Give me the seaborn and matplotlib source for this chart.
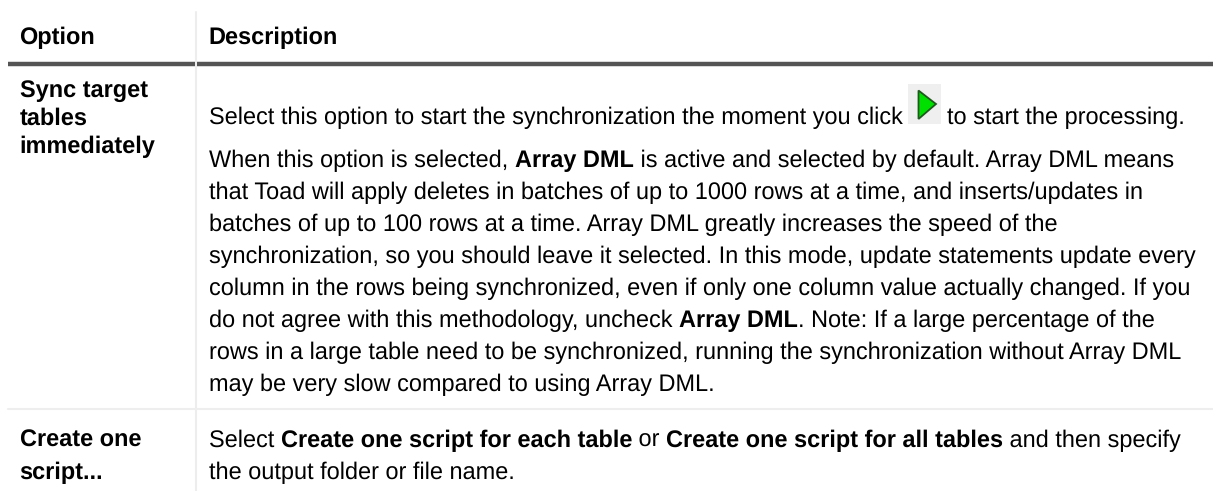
import matplotlib
matplotlib.use('Agg')
import matplotlib.pyplot as plt
from matplotlib.patches import Polygon, Rectangle
import seaborn as sns

sns.set_theme(style='white')
plt.rcParams['font.family'] = ['Liberation Sans', 'DejaVu Sans']
plt.rcParams['text.hinting'] = 'no_hinting'

headers = ['Option', 'Description']
option_labels = [['Sync target', 'tables', 'immediately'], ['Create one', 'script...']]
option_y = [[97, 125, 153], [447, 479]]

# each line is a list of (text, bold) runs
description_lines = [
    [('Select this option to start the synchronization the moment you click', False)],
    [('When this option is selected, ', False), ('Array DML', True), (' is active and selected by default. Array DML means', False)],
    [('that Toad will apply deletes in batches of up to 1000 rows at a time, and inserts/updates in', False)],
    [('batches of up to 100 rows at a time. Array DML greatly increases the speed of the', False)],
    [('synchronization, so you should leave it selected. In this mode, update statements update every', False)],
    [('column in the rows being synchronized, even if only one column value actually changed. If you', False)],
    [('do not agree with this methodology, uncheck ', False), ('Array DML', True), ('. Note: If a large percentage of the', False)],
    [('rows in a large table need to be synchronized, running the synchronization without Array DML', False)],
    [('may be very slow compared to using Array DML.', False)],
    [('Select ', False), ('Create one script for each table', True), (' or ', False), ('Create one script for all tables', True), (' and then specify', False)],
    [('the output folder or file name.', False)],
]
line_y = [124, 167, 199, 231, 263, 295, 327, 359, 391, 447, 479]

fig = plt.figure(figsize=(12.13, 4.91), dpi=100)
ax = fig.add_axes([0, 0, 1, 1])
ax.set_xlim(0, 1213)
ax.set_ylim(491, 0)
ax.axis('off')

fs = 16.95
col = '#000000'

# grid lines
ax.plot([196, 196], [12, 491], color='#ededed', lw=1.5, zorder=1)
ax.plot([8, 1213], [409, 409], color='#eeeeee', lw=1.5, zorder=1)
ax.plot([8, 195], [64, 64], color='#545454', lw=3.2, solid_capstyle='butt', zorder=2)
ax.plot([197, 1213], [64, 64], color='#545454', lw=3.2, solid_capstyle='butt', zorder=2)

# headers
ax.text(19.5, 44, headers[0], fontsize=fs, fontweight='bold', color=col, va='baseline')
ax.text(208.5, 44, headers[1], fontsize=fs, fontweight='bold', color=col, va='baseline')

# option column
for labels, ys in zip(option_labels, option_y):
    for y, t in zip(ys, labels):
        ax.text(19.5, y, t, fontsize=fs, fontweight='bold', color=col, va='baseline')

# description column, runs placed one after another
fig.canvas.draw()
renderer = fig.canvas.get_renderer()
for y, runs in zip(line_y, description_lines):
    x = 209
    for t, bold in runs:
        weight = 'bold' if bold else 'normal'
        ax.text(x, y, t, fontsize=fs, fontweight=weight, color=col, va='baseline')
        # measure with a sentinel so trailing spaces count
        probe = ax.text(0, 0, t + '|', fontsize=fs, fontweight=weight)
        bar = ax.text(0, 0, '|', fontsize=fs, fontweight=weight)
        x += probe.get_window_extent(renderer).width - bar.get_window_extent(renderer).width
        probe.remove()
        bar.remove()

# play icon and rest of first line
ax.add_patch(Rectangle((908, 84), 33, 40, facecolor='#efefef', edgecolor='none', zorder=2))
ax.add_patch(Polygon([[918.5, 90.5], [918.5, 119], [936, 104]], closed=True, facecolor='#00e000', edgecolor='#1e5a1e', lw=1.3, zorder=3))
ax.text(947, line_y[0], 'to start the processing.', fontsize=fs, color=col, va='baseline', zorder=4)

fig.savefig('out.png', dpi=100, facecolor='white')
